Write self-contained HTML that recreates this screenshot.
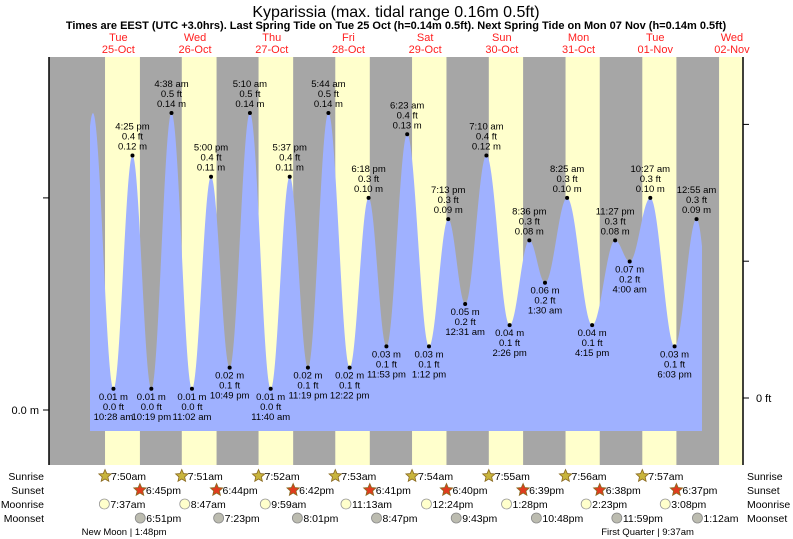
<!DOCTYPE html>
<html><head><meta charset="utf-8">
<style>
html,body{margin:0;padding:0;background:#fff;}
svg{display:block;font-family:"Liberation Sans",Arial,sans-serif;}
</style></head>
<body>
<svg id="chart" width="793" height="539" viewBox="0 0 793 539" xmlns="http://www.w3.org/2000/svg">
<text x="396" y="17" text-anchor="middle" font-size="16" fill="#000">Kyparissia (max. tidal range 0.16m 0.5ft)</text>
<text x="396" y="29" text-anchor="middle" font-size="11" font-weight="bold" fill="#000">Times are EEST (UTC +3.0hrs). Last Spring Tide on Tue 25 Oct (h=0.14m 0.5ft). Next Spring Tide on Mon 07 Nov (h=0.14m 0.5ft)</text>
<g id="bands"></g>
<g id="tide"></g>
<g id="axes"></g>
<g id="labels" font-size="9.5" fill="#000"></g>
<g id="days" font-size="11" fill="#ff2020"></g>
<g id="astro" font-size="10.5" fill="#000"></g>
</svg>
<script>
// ---- data ----
const dayNames = ["Tue","Wed","Thu","Fri","Sat","Sun","Mon","Tue","Wed"];
const dayDates = ["25-Oct","26-Oct","27-Oct","28-Oct","29-Oct","30-Oct","31-Oct","01-Nov","02-Nov"];
// extremes: hours since Tue 25-Oct 00:00, heights in m
const tideHours = [-2.5, 4.05, 10.47, 16.42, 22.32, 28.63, 35.03, 41.0, 46.82, 53.17, 59.67, 65.62, 71.32, 77.73, 84.37, 90.3, 95.88, 102.38, 109.2, 115.22, 120.52, 127.17, 134.43, 140.6, 145.5, 152.42, 160.25, 167.45, 172.0, 178.45, 186.05, 192.92, 199.0];
const tideHeights = [0.01, 0.14, 0.01, 0.12, 0.01, 0.14, 0.01, 0.11, 0.02, 0.14, 0.01, 0.11, 0.02, 0.14, 0.02, 0.10, 0.03, 0.13, 0.03, 0.09, 0.05, 0.12, 0.04, 0.08, 0.06, 0.10, 0.04, 0.08, 0.07, 0.10, 0.03, 0.09, 0.02];
const tideTimes = ["", "", "10:28 am","4:25 pm","10:19 pm","4:38 am","11:02 am","5:00 pm","10:49 pm","5:10 am","11:40 am","5:37 pm","11:19 pm","5:44 am","12:22 pm","6:18 pm","11:53 pm","6:23 am","1:12 pm","7:13 pm","12:31 am","7:10 am","2:26 pm","8:36 pm","1:30 am","8:25 am","4:15 pm","11:27 pm","4:00 am","10:27 am","6:03 pm","12:55 am",""];
const sunriseHours = [7.83, 31.85, 55.87, 79.88, 103.9, 127.92, 151.93, 175.95, 199.97];
const sunsetHours = [18.75, 42.73, 66.7, 90.68, 114.67, 138.65, 162.63, 186.62];
const sunriseText = ["7:50am","7:51am","7:52am","7:53am","7:54am","7:55am","7:56am","7:57am"];
const sunsetText = ["6:45pm","6:44pm","6:42pm","6:41pm","6:40pm","6:39pm","6:38pm","6:37pm"];
const moonriseHours = [7.62, 32.78, 57.98, 83.22, 108.4, 133.47, 158.38, 183.13];
const moonriseText = ["7:37am","8:47am","9:59am","11:13am","12:24pm","1:28pm","2:23pm","3:08pm"];
const moonsetHours = [18.85, 43.38, 68.02, 92.78, 117.72, 142.8, 167.98, 193.2];
const moonsetText = ["6:51pm","7:23pm","8:01pm","8:47pm","9:43pm","10:48pm","11:59pm","1:12am"];
const phaseHours = [13.8, 177.6];
const phaseText = ["New Moon | 1:48pm","First Quarter | 9:37am"];
const leftTicks = [0, 0.1];
const rightTicksFt = [0, 0.4, 0.8];

// ---- scales ----
const X0 = 80, PXDAY = 76.7;
function xOf(h){ return X0 + h/24*PXDAY; }
function yOf(m){ return 410 - m*2121; }
function yFt(ft){ return 398 - ft*342; }
const NS = "http://www.w3.org/2000/svg";
function mk(tag, attrs, parent, txt){
  const e = document.createElementNS(NS, tag);
  for (const k in attrs) e.setAttribute(k, attrs[k]);
  if (txt !== undefined) e.textContent = txt;
  parent.appendChild(e);
  return e;
}
const PL = 49, PR = 743, PT = 57, PB = 465;

// bands
const bands = document.getElementById('bands');
let bg = mk('rect', {x:PL, y:PT, width:PR-PL, height:PB-PT, fill:'#a6a6a6'}, bands);


for (let i=0;i<sunriseHours.length;i++){
  const x1 = Math.max(PL, xOf(sunriseHours[i]));
  const x2 = Math.min(PR, i < sunsetHours.length ? xOf(sunsetHours[i]) : PR);
  if (x2 <= x1) continue;
  const r = mk('rect', {x:x1, y:PT, width:x2-x1, height:PB-PT, fill:'#ffffcc'}, bands);
  
  
}

// tide curve
const tide = document.getElementById('tide');
function heightAt(h){
  for (let i=0;i<tideHours.length-1;i++){
    if (h >= tideHours[i] && h <= tideHours[i+1]){
      const f = (h - tideHours[i])/(tideHours[i+1]-tideHours[i]);
      const c = (1 - Math.cos(Math.PI*f))/2;
      return tideHeights[i] + (tideHeights[i+1]-tideHeights[i])*c;
    }
  }
  return tideHeights[tideHeights.length-1];
}
const xStart = 90, xEnd = 702, yBase = 431;
let d = `M${xStart},${yBase}`;
for (let x=xStart; x<=xEnd; x+=0.5){
  const h = (x - X0)/PXDAY*24;
  d += ` L${x},${yOf(heightAt(h)).toFixed(2)}`;
}
d += ` L${xEnd},${yBase} Z`;
const area = mk('path', {d:d, fill:'#9fb1ff'}, tide);



// axes
const axes = document.getElementById('axes');
let la = mk('line', {x1:PL, y1:PT, x2:PL, y2:PB, stroke:'#000', 'stroke-width':1.5}, axes);


let ra = mk('line', {x1:PR, y1:PT, x2:PR, y2:PB, stroke:'#000', 'stroke-width':1.5}, axes);


leftTicks.forEach(v=>{
  const y = yOf(v);
  const t = mk('line', {x1:PL-6, y1:y, x2:PL, y2:y, stroke:'#000'}, axes);
  
  
  if (v === 0){
    const l = mk('text', {x:PL-10, y:y+4, 'text-anchor':'end', 'font-size':11}, axes, '0.0 m');
    
    
  }
});
rightTicksFt.forEach(v=>{
  const y = yFt(v);
  const t = mk('line', {x1:PR, y1:y, x2:PR+6, y2:y, stroke:'#000'}, axes);
  
  
  if (v === 0){
    const l = mk('text', {x:PR+13, y:y+4, 'font-size':11}, axes, '0 ft');
    
    
  }
});

// extreme labels
const labels = document.getElementById('labels');
for (let i=0;i<tideHours.length;i++){
  if (!tideTimes[i]) continue;
  const x = xOf(tideHours[i]), y = yOf(tideHeights[i]);
  const m = tideHeights[i].toFixed(2) + ' m';
  const ft = (tideHeights[i]*3.2808).toFixed(1) + ' ft';
  const isHigh = (i>0 && tideHeights[i] > tideHeights[i-1]);
  const dot = mk('circle', {cx:x, cy:y, r:2, fill:'#000'}, labels);
  
  
  const g = mk('text', {x:x, 'text-anchor':'middle'}, labels);
  
  
  const lines = isHigh ? [tideTimes[i], ft, m] : [m, ft, tideTimes[i]];
  const ys = isHigh ? [y-26, y-16, y-6] : [y+11, y+21, y+31];
  lines.forEach((s,k)=>{ mk('tspan', {x:x, y:ys[k]}, g, s); });
}

// day labels
const days = document.getElementById('days');
dayNames.forEach((n,i)=>{
  const x = xOf(i*24+12);
  const t = mk('text', {x:x, y:41, 'text-anchor':'middle'}, days, n);
  
  
  const t2 = mk('text', {x:x, y:53, 'text-anchor':'middle'}, days, dayDates[i]);
  
  
});

// astro rows
const astro = document.getElementById('astro');
const rowY = [476, 490, 504, 518];
const rowNames = ["Sunrise","Sunset","Moonrise","Moonset"];
rowNames.forEach((n,i)=>{
  const a = mk('text', {x:44, y:rowY[i]+4, 'text-anchor':'end'}, astro, n);
  
  
  const b = mk('text', {x:747, y:rowY[i]+4}, astro, n);
  
  
});
function star(cx, cy, fill){
  let p = '';
  for (let k=0;k<10;k++){
    const r = k%2===0 ? 6.5 : 3;
    const a = -Math.PI/2 + k*Math.PI/5;
    p += (cx + r*Math.cos(a)).toFixed(2) + ',' + (cy + r*Math.sin(a)).toFixed(2) + ' ';
  }
  return mk('polygon', {points:p, fill:fill, stroke:'#8a6a20', 'stroke-width':0.8}, astro);
}
sunriseText.forEach((s,i)=>{
  const x = xOf(sunriseHours[i]);
  const st = star(x, rowY[0], '#c8b43c');
  
  
  const t = mk('text', {x:x+6, y:rowY[0]+4}, astro, s);
  
  
});
sunsetText.forEach((s,i)=>{
  const x = xOf(sunsetHours[i]);
  const st = star(x, rowY[1], '#e03c1e');
  
  
  const t = mk('text', {x:x+6, y:rowY[1]+4}, astro, s);
  
  
});
moonriseText.forEach((s,i)=>{
  const x = xOf(moonriseHours[i]);
  const c = mk('circle', {cx:x, cy:rowY[2], r:5, fill:'#ffffcc', stroke:'#999', 'stroke-width':0.8}, astro);
  
  
  const t = mk('text', {x:x+6, y:rowY[2]+4}, astro, s);
  
  
});
moonsetText.forEach((s,i)=>{
  const x = xOf(moonsetHours[i]);
  const c = mk('circle', {cx:x, cy:rowY[3], r:5, fill:'#bcbcb0', stroke:'#888', 'stroke-width':0.8}, astro);
  
  
  const t = mk('text', {x:x+6, y:rowY[3]+4}, astro, s);
  
  
});
phaseText.forEach((s,i)=>{
  const t = mk('text', {x:xOf(phaseHours[i]), y:535, 'text-anchor':'middle', 'font-size':9.5}, astro, s);
  
  
});
</script>
</body></html>
